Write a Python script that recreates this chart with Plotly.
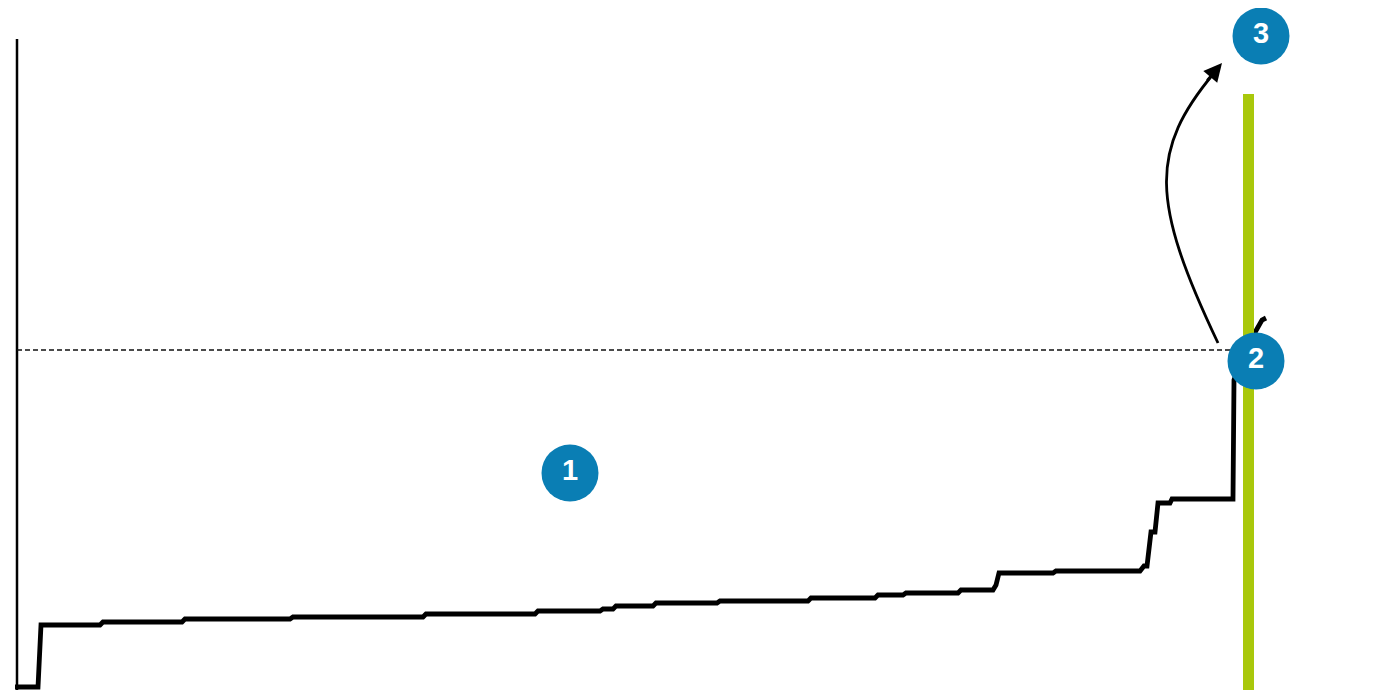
import plotly.graph_objects as go

W, H = 1375, 690
OFF = 8  # page body margin offset of the rendered figure

# Sorted distribution (x = rank position, y = value)
step_x = [15, 38, 41, 100, 103, 182, 185, 290, 293, 423, 426, 535, 538, 600, 603, 613, 616,
          653, 656, 717, 720, 808, 811, 875, 878, 903, 906, 958, 961, 993, 996, 999, 1053,
          1056, 1140, 1144, 1147, 1151, 1155, 1158, 1170, 1172, 1233, 1234, 1245, 1257,
          1262, 1266]
step_y = [3, 3, 65, 65, 68, 68, 71, 71, 73, 73, 76, 76, 79, 79, 81, 81, 84,
          84, 87, 87, 89, 89, 92, 92, 95, 95, 97, 97, 100, 100, 105, 117, 117,
          119, 119, 124, 124, 158, 158, 187, 187, 191, 191, 310, 340, 360,
          370, 372]

threshold_y = 340          # dashed reference level
threshold_x = [17, 1230]
marker_x = 1248.5          # green vertical marker
marker_y = [-10, 596]
axis_x = 17
axis_y = [-10, 651]

badge_x = [570, 1256, 1261]
badge_y = [217, 329, 654]
badge_text = ["1", "2", "3"]

BLUE = "#0a7eb4"
GREEN = "#a9c80b"

fig = go.Figure()

# left axis line
fig.add_trace(go.Scatter(x=[axis_x, axis_x], y=axis_y, mode="lines",
                         line=dict(color="black", width=2.5), hoverinfo="skip"))
# dashed threshold
fig.add_trace(go.Scatter(x=threshold_x, y=[threshold_y, threshold_y], mode="lines",
                         line=dict(color="#111111", width=1.6, dash="5px,3px"),
                         hoverinfo="skip"))
# step line
fig.add_trace(go.Scatter(x=step_x, y=step_y, mode="lines",
                         line=dict(color="black", width=4.8), hoverinfo="skip"))
# green vertical marker
fig.add_trace(go.Scatter(x=[marker_x, marker_x], y=marker_y, mode="lines",
                         line=dict(color=GREEN, width=11), hoverinfo="skip"))

# curved arrow from badge 2 to badge 3
def Y(py):
    return H - py

path = "M 1218 {} C 1150 {} 1150 {} 1214 {}".format(Y(343), Y(200), Y(150), Y(73))
fig.add_shape(type="path", path=path, xref="x", yref="y",
              line=dict(color="black", width=2.8))
fig.add_annotation(x=1222, y=Y(63), ax=1206, ay=Y(82), xref="x", yref="y",
                   axref="x", ayref="y", showarrow=True, arrowhead=2, arrowsize=1.3,
                   arrowwidth=2.8, arrowcolor="black", text="")

# badges
fig.add_trace(go.Scatter(x=badge_x, y=badge_y, mode="markers+text", text=badge_text,
                         textposition="middle center",
                         marker=dict(size=57, color=BLUE, line=dict(width=0)),
                         textfont=dict(color="white", size=29,
                                       family="Liberation Sans, Arial, sans-serif",
                                       weight="bold"),
                         hoverinfo="skip"))

fig.update_layout(
    width=W, height=H,
    margin=dict(l=0, r=0, t=0, b=0),
    paper_bgcolor="white", plot_bgcolor="white",
    showlegend=False,
    xaxis=dict(range=[OFF, W + OFF], visible=False, fixedrange=True),
    yaxis=dict(range=[-OFF, H - OFF], visible=False, fixedrange=True),
)

fig.write_html("out.html", config={"displayModeBar": False})
